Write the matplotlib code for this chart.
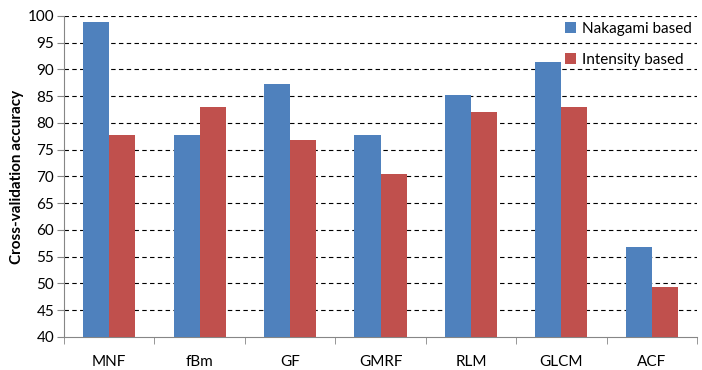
import matplotlib.pyplot as plt
import numpy as np

plt.rcParams['font.family'] = ['Lato', 'DejaVu Sans']

categories = ['MNF', 'fBm', 'GF', 'GMRF', 'RLM', 'GLCM', 'ACF']
nakagami = [98.9, 77.8, 87.3, 77.8, 85.3, 91.4, 56.9]
intensity = [77.8, 83.0, 76.8, 70.5, 82.1, 83.0, 49.4]

blue = '#4F81BD'
red = '#C0504D'

fig = plt.figure(figsize=(7.02, 3.70), dpi=100)
ax = fig.add_axes([0.0912, 0.0892, 0.9017, 0.8676])

x = np.arange(len(categories))
w = 0.288
ax.bar(x - w/2, nakagami, w, color=blue, label='Nakagami based', zorder=3)
ax.bar(x + w/2, intensity, w, color=red, label='Intensity based', zorder=3)

ax.set_xlim(-0.5, len(categories) - 0.5)
ax.set_ylim(40, 100)
ax.set_yticks(np.arange(40, 101, 5))
ax.tick_params(axis='y', labelsize=11, length=5, color='#868686', pad=2)
for y in range(45, 101, 5):
    ax.axhline(y, color='black', lw=0.8, ls=(0, (4, 3)), zorder=1)

ax.set_xticks(x)
ax.set_xticklabels(categories, fontsize=11)
ax.tick_params(axis='x', length=0, pad=13)
ax.set_xticks(np.arange(-0.5, len(categories) + 0.5, 1), minor=True)
ax.tick_params(axis='x', which='minor', length=5, color='#868686')

for s in ['top', 'right']:
    ax.spines[s].set_visible(False)
for s in ['left', 'bottom']:
    ax.spines[s].set_color('#868686')

ax.set_ylabel('Cross-validation accuracy', fontsize=11, fontweight='bold', labelpad=3)

ax.legend(loc='upper right', bbox_to_anchor=(1.014, 1.025), frameon=False, fontsize=11,
          handlelength=0.75, handleheight=0.75, handletextpad=0.4, labelspacing=1.1)

fig.savefig('out.png', dpi=100)
